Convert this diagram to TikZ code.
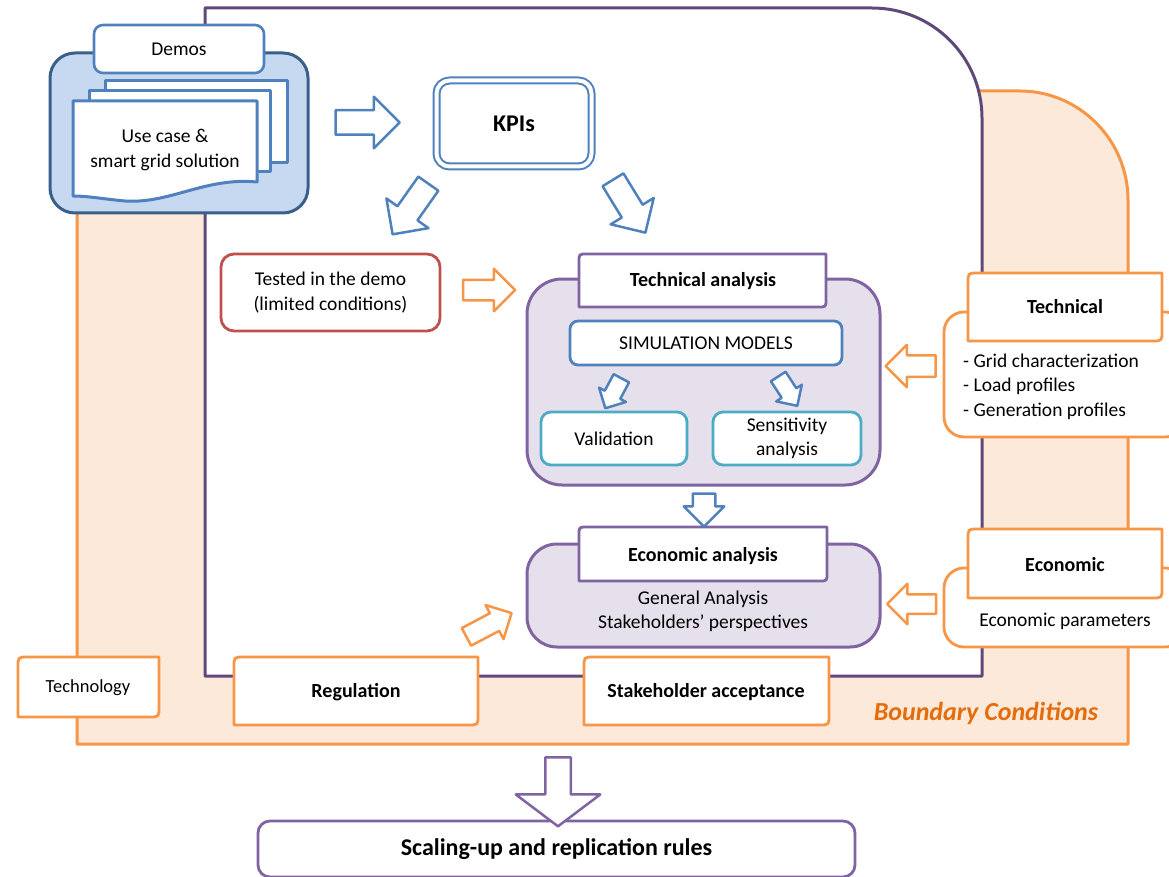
\documentclass[tikz,border=0pt]{standalone}
\usepackage{fontspec}
\setmainfont{Carlito}
\usetikzlibrary{shapes.arrows}
\definecolor{cblue}{HTML}{4F81BD}
\definecolor{cdblue}{HTML}{3A5F8B}
\definecolor{clblue}{HTML}{C6D9F1}
\definecolor{cpurp}{HTML}{8064A2}
\definecolor{cdpurp}{HTML}{5F497A}
\definecolor{clav}{HTML}{E5E0EC}
\definecolor{corange}{HTML}{F79646}
\definecolor{clorange}{HTML}{FDE9D9}
\definecolor{cred}{HTML}{C0504D}
\definecolor{cteal}{HTML}{4BACC6}
\definecolor{cbtext}{HTML}{E46C0A}
\newcommand\rdbox[6]{\draw[tabshape=#1] (#2,#5) -- (#2,#3+#6) .. controls (#2,#3) .. (#2+#6,#3) -- (#4,#3) -- (#4,#5-#6) .. controls (#4,#5) .. (#4-#6,#5) -- cycle;}
\begin{document}
\begin{tikzpicture}[x=1pt,y=-1pt,line join=round,
  barrow/.style={single arrow, draw=#1, fill=white, line width=2.5pt, inner xsep=0pt, outer sep=0pt, single arrow head indent=0pt, single arrow tip angle=90},
  rbox/.style={rectangle, draw=#1, fill=white, line width=2.8pt, inner sep=0pt, outer sep=0pt},
  txt/.style={font=\fontsize{19.5}{24.5}\selectfont, align=center, inner sep=0pt},
  btxt/.style={font=\fontsize{20}{24}\selectfont\bfseries, align=center, inner sep=0pt},
  tabshape/.style={draw=#1, fill=white, line width=2.8pt},
  page/.style={draw=cblue, fill=white, line width=3pt}
]
\path[use as bounding box, clip] (0,0) rectangle (1169,877);

% boundary conditions area
\draw[draw=corange, fill=clorange, line width=3pt] (77,744) -- (77,91) -- (1020,91) .. controls (1079.6,91) and (1128,140.4) .. (1128,200) -- (1128,744) -- cycle;
% purple frame
\draw[draw=cdpurp, fill=white, line width=3pt] (205,676) -- (205,8) -- (872,8) .. controls (932.8,8) and (982,57.2) .. (982,118) -- (982,676) -- cycle;

% Demos group
\node[rbox=cdblue, fill=clblue, line width=3pt, rounded corners=25pt, minimum width=258pt, minimum height=160pt] (demos) at (179,133) {};
\draw[page] (105,81) rectangle (287,163);
\draw[page] (89,91) rectangle (270,172);
\draw[page] (73,101) -- (257,101) -- (257,182) .. controls (205,177) and (170,204) .. (125,201) .. controls (103,199) and (88,196) .. (73,196) -- cycle;
\node[txt] (usecase) at (165,150) {Use case \&\\smart grid solution};
\node[rbox=cblue, line width=2.6pt, rounded corners=9pt, minimum width=170pt, minimum height=48pt, txt] (demotab) at (179,49) {Demos};

% KPIs
\node[rectangle, draw=cblue, double=white, double distance=4pt, line width=2pt, rounded corners=13pt, minimum width=155pt, minimum height=86pt, font=\fontsize{24}{28}\selectfont\bfseries] (kpi) at (514,123.5) {KPIs};

% Tested in the demo
\node[rbox=cred, rounded corners=13pt, minimum width=219pt, minimum height=77pt, txt] (tested) at (330.5,292.5) {Tested in the demo\\(limited conditions)};

% Technical analysis group
\node[rbox=cpurp, fill=clav, line width=3pt, rounded corners=35pt, minimum width=353pt, minimum height=206pt] (tagroup) at (703.5,382) {};
\rdbox{cpurp}{579}{254}{826}{307}{8}
\node[btxt] (tatab) at (703,281) {Technical analysis};
\node[rbox=cblue, rounded corners=8pt, minimum width=272pt, minimum height=44pt, txt] (sim) at (706,343) {SIMULATION MODELS};
\node[rbox=cteal, rounded corners=10pt, minimum width=146pt, minimum height=53pt, txt] (val) at (614,438.5) {Validation};
\node[rbox=cteal, rounded corners=10pt, minimum width=148pt, minimum height=53pt, txt] (sens) at (787,438.5) {Sensitivity\\analysis};

% Economic analysis group
\node[rbox=cpurp, fill=clav, line width=3pt, rounded corners=30pt, minimum width=353pt, minimum height=103pt] (eagroup) at (703.5,595.5) {};
\rdbox{cpurp}{579}{527}{827}{581}{8}
\node[btxt] (eatab) at (703,556) {Economic analysis};
\node[txt] (eatext) at (703,611.5) {General Analysis\\Stakeholders’ perspectives};

% right side boxes
\node[rbox=corange, rounded corners=20pt, minimum width=241pt, minimum height=125pt] (techout) at (1064.5,374.5) {};
\rdbox{corange}{968}{273}{1162}{341}{10}
\node[btxt] (techtab) at (1065,307) {Technical};
\node[txt, align=left, anchor=west] (techlist) at (963,386.5) {- Grid characterization\\- Load profiles\\- Generation profiles};

\node[rbox=corange, rounded corners=20pt, minimum width=241pt, minimum height=79pt] (ecoout) at (1064.5,607.5) {};
\rdbox{corange}{968}{529}{1162}{598}{10}
\node[btxt] (ecotab) at (1065,565) {Economic};
\node[txt] (ecopar) at (1065,621) {Economic parameters};

% bottom boxes
\rdbox{corange}{18}{657}{159}{717}{10}
\node[txt, font=\fontsize{18.5}{22}\selectfont] (techno) at (88,688) {Technology};
\rdbox{corange}{234}{657}{478}{725}{10}
\node[btxt] (reg) at (356,692) {Regulation};
\rdbox{corange}{584}{657}{829}{725}{10}
\node[btxt] (stake) at (706,692) {Stakeholder acceptance};

\node[font=\fontsize{26}{30}\selectfont\bfseries\itshape, text=cbtext, inner sep=0pt] (bc) at (986,713) {Boundary Conditions};

% scaling
\node[rbox=cpurp, rounded corners=12pt, minimum width=597pt, minimum height=56pt, font=\fontsize{24}{28}\selectfont\bfseries] (scale) at (556.5,849) {Scaling-up and replication rules};

% block arrows
\node[barrow=cblue, minimum height=64pt, inner ysep=11pt, single arrow head extend=13.5pt] (a1) at (361.5,122.5) {};
\node[barrow=cblue, minimum height=62pt, inner ysep=11pt, single arrow head extend=13.5pt, rotate=234.8] (a2) at (414,204) {};
\node[barrow=cblue, minimum height=62pt, inner ysep=11pt, single arrow head extend=13pt, rotate=-58.5] (a3) at (626,201) {};
\node[barrow=corange, minimum height=52pt, inner ysep=9pt, single arrow head extend=11pt] (a4) at (484,290) {};
\node[barrow=corange, minimum height=50pt, inner ysep=9.5pt, single arrow head extend=10.5pt, rotate=180] (a5) at (916,366) {};
\node[barrow=cblue, minimum height=34pt, inner ysep=7.5pt, single arrow head extend=6.5pt, rotate=241.9] (a6) at (615.4,389.4) {};
\node[barrow=cblue, minimum height=35pt, inner ysep=7.5pt, single arrow head extend=6.5pt, rotate=-57] (a7) at (785.4,387.5) {};
\node[barrow=cblue, minimum height=33pt, inner ysep=10pt, single arrow head extend=9pt, rotate=-90] (a8) at (704,504.5) {};
\node[barrow=corange, minimum height=51pt, inner ysep=8.7pt, single arrow head extend=9.3pt, rotate=27.8] (a9) at (484.6,627.3) {};
\node[barrow=corange, minimum height=49pt, inner ysep=8.5pt, single arrow head extend=10.5pt, rotate=180] (a10) at (916.5,604) {};
\node[barrow=cpurp, minimum height=69pt, inner ysep=11.5pt, single arrow head extend=29.5pt, single arrow tip angle=106, rotate=-90] (a11) at (558,787) {};
\end{tikzpicture}
\end{document}
